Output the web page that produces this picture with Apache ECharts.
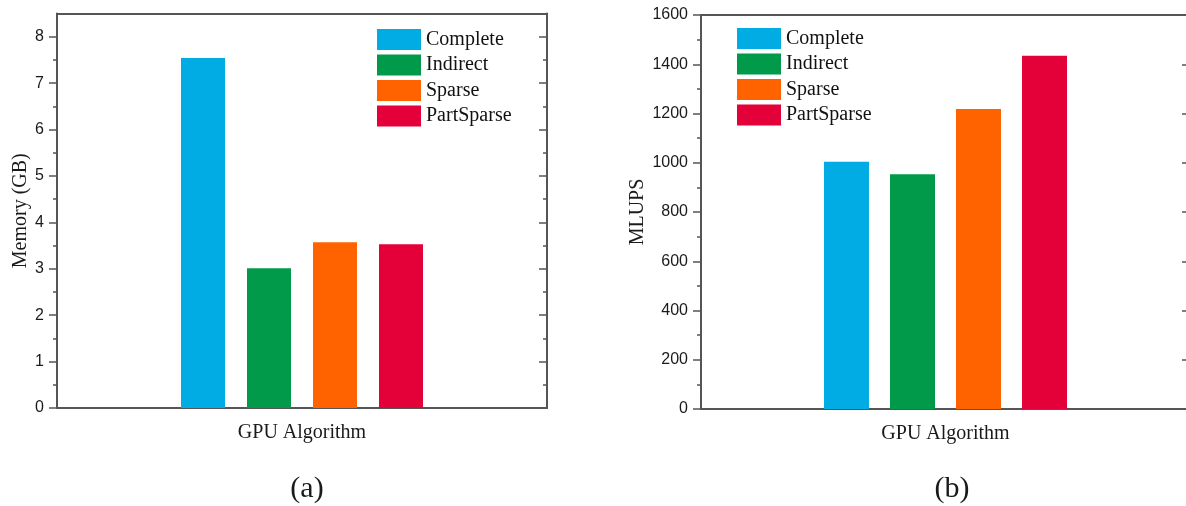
<!DOCTYPE html>
<html>
<head>
<meta charset="utf-8">
<script src="https://cdn.jsdelivr.net/npm/echarts@6/dist/echarts.min.js"></script>
<style>
  html, body { margin: 0; padding: 0; background: #fff; }
  #chart { width: 1186px; height: 506px; }
</style>
</head>
<body>
<div id="chart"></div>
<script>
const categories = ['GPU Algorithm'];
const seriesNames = ['Complete', 'Indirect', 'Sparse', 'PartSparse'];
const seriesColors = ['#00ace3', '#009a4a', '#ff6300', '#e40038'];
const memoryValues = [7.54, 3.01, 3.57, 3.53];
const mlupsValues = [1004, 953, 1218, 1435];
const memoryTicks = [0, 1, 2, 3, 4, 5, 6, 7, 8];
const mlupsTicks = [0, 200, 400, 600, 800, 1000, 1200, 1400, 1600];
const panelLabels = ['(a)', '(b)'];

const serif = 'Liberation Serif, Times New Roman, serif';
const sans = 'Liberation Sans, Arial, sans-serif';
const axisColor = '#555';
const textColor = '#1a1a1a';

const chart = echarts.init(document.getElementById('chart'));

function xAxes(gridIndex) {
  return [
    {
      type: 'category', gridIndex: gridIndex, data: categories, position: 'bottom',
      axisLine: { show: true, onZero: false, lineStyle: { color: axisColor, width: 2 } },
      axisTick: { show: false },
      axisLabel: { show: true, margin: 15, fontFamily: serif, fontSize: 20, color: textColor }
    },
    {
      type: 'category', gridIndex: gridIndex, data: categories, position: 'top',
      axisLine: { show: true, onZero: false, lineStyle: { color: axisColor, width: 2 } },
      axisTick: { show: false }, axisLabel: { show: false }
    }
  ];
}

function yAxes(gridIndex, max, interval, ticks, name, nameGap) {
  return [
    {
      type: 'value', gridIndex: gridIndex, position: 'left', min: 0, max: max, interval: interval,
      name: name, nameLocation: 'middle', nameGap: nameGap, nameRotate: 90,
      nameTextStyle: { fontFamily: serif, fontSize: 20, color: textColor },
      axisLine: { show: true, onZero: false, lineStyle: { color: axisColor, width: 2 } },
      axisTick: { show: true, length: 8, customValues: ticks, lineStyle: { color: axisColor, width: 1.5 } },
      minorTick: { show: true, splitNumber: 2, length: 4, lineStyle: { color: axisColor, width: 1.5 } },
      axisLabel: { margin: 13, customValues: ticks, fontFamily: sans, fontSize: 16, color: textColor,
        formatter: (v) => String(v) },
      splitLine: { show: false }
    },
    {
      type: 'value', gridIndex: gridIndex, position: 'right', min: 0, max: max, interval: interval,
      axisLine: { show: true, onZero: false, lineStyle: { color: axisColor, width: 2 } },
      axisTick: { show: true, inside: true, length: 8, customValues: ticks, lineStyle: { color: axisColor, width: 1.5 } },
      minorTick: { show: true, splitNumber: 2, length: 4, lineStyle: { color: axisColor, width: 1.5 } },
      axisLabel: { show: false },
      splitLine: { show: false }
    }
  ];
}

const series = [];
seriesNames.forEach((n, i) => {
  series.push({
    name: n, type: 'bar', xAxisIndex: 0, yAxisIndex: 0,
    data: [memoryValues[i]], barWidth: 44, barGap: '50%',
    itemStyle: { color: seriesColors[i] }
  });
});
seriesNames.forEach((n, i) => {
  series.push({
    name: n, type: 'bar', xAxisIndex: 2, yAxisIndex: 2,
    data: [mlupsValues[i]], barWidth: 45, barGap: '46.7%',
    itemStyle: { color: seriesColors[i] }
  });
});

function legend(left, top) {
  return {
    data: seriesNames, left: left, top: top, orient: 'vertical',
    icon: 'rect', itemWidth: 44, itemHeight: 21, itemGap: 4.5, padding: 0,
    selectedMode: false,
    textStyle: { fontFamily: serif, fontSize: 20, color: '#111', lineHeight: 21 }
  };
}

const option = {
  animation: false,
  backgroundColor: '#fff',
  grid: [
    { left: 57, top: 13.5, width: 490, height: 394.5, containLabel: false, outerBoundsMode: 'none' },
    { left: 701, top: 15, width: 489, height: 394, containLabel: false, outerBoundsMode: 'none' }
  ],
  xAxis: xAxes(0).concat(xAxes(1)),
  yAxis: yAxes(0, 8.5, 1, memoryTicks, 'Memory (GB)', 25)
    .concat(yAxes(1, 1600, 200, mlupsTicks, 'MLUPS', 53)),
  legend: [legend(377, 29), legend(737, 28)],
  title: [
    { text: panelLabels[0], left: 307, top: 474, textAlign: 'center', padding: 0,
      textStyle: { fontFamily: serif, fontSize: 30, fontWeight: 'normal', color: textColor } },
    { text: panelLabels[1], left: 952, top: 474, textAlign: 'center', padding: 0,
      textStyle: { fontFamily: serif, fontSize: 30, fontWeight: 'normal', color: textColor } }
  ],
  series: series
};
chart.setOption(option);
</script>
</body>
</html>
